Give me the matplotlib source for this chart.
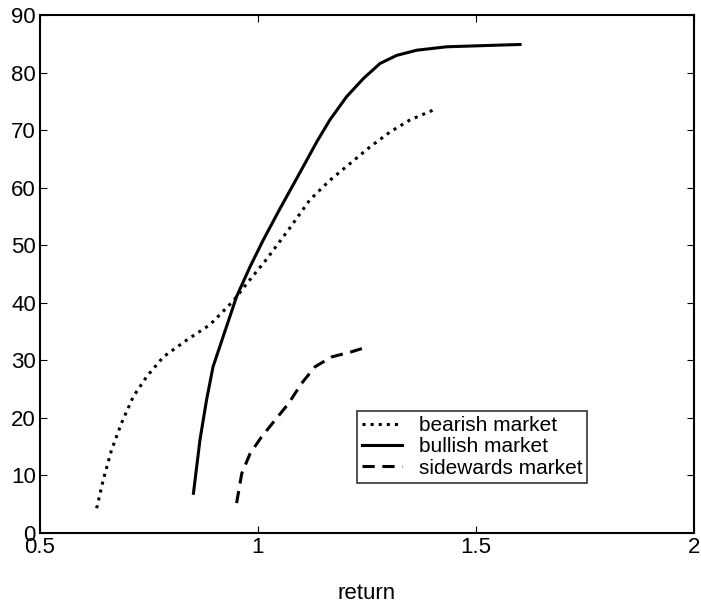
import numpy as np
import matplotlib.pyplot as plt

plt.rcParams['font.family'] = ['Liberation Sans', 'DejaVu Sans']

# bearish market (dotted)
bear_x = [0.630, 0.645, 0.664, 0.687, 0.714, 0.745, 0.783, 0.836, 0.890, 0.943,
          0.976, 1.020, 1.073, 1.119, 1.165, 1.211, 1.257, 1.303, 1.349, 1.402]
bear_y = [4.3, 9.2, 14.4, 19.1, 23.7, 27.2, 30.6, 33.5, 36.2, 40.3,
          43.5, 47.6, 53.0, 57.9, 61.3, 64.2, 67.1, 69.7, 71.8, 73.5]

# bullish market (solid)
bull_x = [0.852, 0.867, 0.882, 0.897, 0.920, 0.951, 0.982, 1.012, 1.050, 1.096,
          1.135, 1.165, 1.203, 1.242, 1.280, 1.318, 1.364, 1.433, 1.517, 1.601]
bull_y = [6.9, 16.2, 23.1, 28.9, 34.1, 41.1, 46.3, 50.9, 56.3, 62.6,
          68.0, 71.8, 75.8, 79.0, 81.6, 83.0, 83.9, 84.5, 84.7, 84.9]

# sidewards market (dashed)
side_x = [0.951, 0.963, 0.982, 1.008, 1.039, 1.070, 1.100, 1.131, 1.169, 1.215, 1.253]
side_y = [5.2, 10.4, 13.8, 16.7, 19.6, 22.5, 26.0, 28.9, 30.6, 31.5, 32.4]

fig = plt.figure(figsize=(7.01, 6.05), dpi=100)
ax = fig.add_axes([0.057, 0.119, 0.933, 0.856])

ax.plot(bear_x, bear_y, color='black', linestyle=':', linewidth=2.2, label='bearish market')
ax.plot(bull_x, bull_y, color='black', linestyle='-', linewidth=2.2, label='bullish market')
ax.plot(side_x, side_y, color='black', linestyle=(0, (4, 2.5)), linewidth=2.2, label='sidewards market')

ax.set_xlim(0.5, 2)
ax.set_ylim(0, 90)
ax.set_xticks([0.5, 1, 1.5, 2])
ax.set_xticklabels(['0.5', '1', '1.5', '2'])
ax.set_yticks(range(0, 91, 10))
ax.tick_params(direction='in', top=True, right=True, length=5, labelsize=16, pad=3)
for s in ax.spines.values():
    s.set_linewidth(1.5)

ax.set_xlabel('return', fontsize=16, labelpad=18)

leg = ax.legend(loc='lower left', bbox_to_anchor=(0.485, 0.097), fontsize=15,
                frameon=True, fancybox=False, edgecolor='black', handlelength=1.9,
                labelspacing=0.1, borderpad=0.25, handletextpad=0.8, borderaxespad=0)
leg.get_frame().set_linewidth(1.2)

fig.savefig('out.png', dpi=100)
